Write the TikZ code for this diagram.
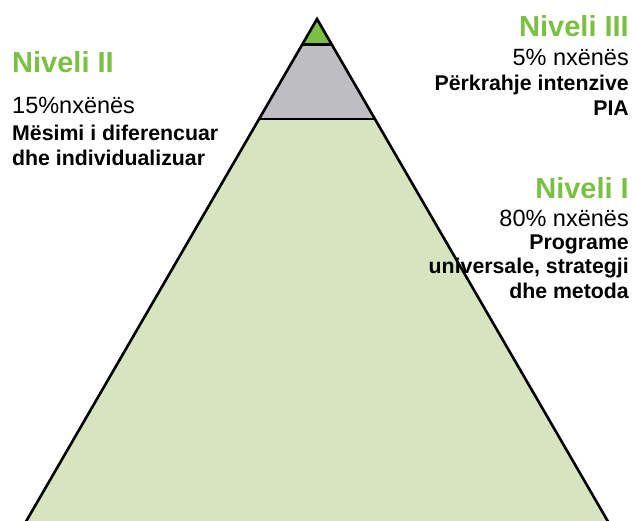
\documentclass[tikz,border=0pt]{standalone}
\usepackage{fontspec}
\setmainfont{Liberation Sans}
\usetikzlibrary{positioning}
\definecolor{nivgreen}{HTML}{7AC143}
\definecolor{nivgray}{HTML}{BEBEC2}
\definecolor{nivlight}{HTML}{D7E4C0}

\begin{document}
\begin{tikzpicture}[x=1pt, y=-1pt,
  head/.style={inner sep=0pt, text=nivgreen, font=\fontsize{29}{29}\selectfont\bfseries},
  pct/.style={inner sep=0pt, font=\fontsize{23.5}{23.5}\selectfont},
  body/.style={inner sep=0pt, font=\fontsize{21.3}{24.5}\selectfont\bfseries},
  band/.style={draw=black, line width=2.6pt, line join=miter}]
  \useasboundingbox (0,0) rectangle (632,520);
  \clip (0,0) rectangle (632,520);
  % pyramid corners
  \coordinate (apex) at (317,19);
  \coordinate (t1l) at (302.2,44.5);
  \coordinate (t1r) at (331.8,44.5);
  \coordinate (t2l) at (259,119);
  \coordinate (t2r) at (375,119);
  \coordinate (bl) at (21.1,530);
  \coordinate (br) at (612.9,530);
  \fill[nivlight] (t2l) -- (t2r) -- (br) -- (bl) -- cycle;
  \fill[nivgray] (t1l) -- (t1r) -- (t2r) -- (t2l) -- cycle;
  \fill[nivgreen] (apex) -- (t1r) -- (t1l) -- cycle;
  \draw[band] (bl) -- (apex) -- (br);
  \draw[band] (t1l) -- (t1r);
  \draw[band] (t2l) -- (t2r);

  % Niveli III
  \node[head, anchor=base east] (n3) at (629,36) {Niveli III};
  \node[pct, anchor=base east] (n3pct) at (629,65.5) {5\% nxënës};
  \node[body, anchor=base east, align=right] (n3txt) at (629,115)
    {Përkrahje intenzive\\PIA};
  % Niveli II
  \node[head, anchor=base west] (n2) at (12,72) {Niveli II};
  \node[pct, anchor=base west] (n2pct) at (12,113) {15\%nxënës};
  \node[body, anchor=base west, align=left] (n2txt) at (12,165)
    {Mësimi i diferencuar\\dhe individualizuar};
  % Niveli I
  \node[head, anchor=base east] (n1) at (629,198) {Niveli I};
  \node[pct, anchor=base east] (n1pct) at (629,226) {80\% nxënës};
  \node[body, anchor=base east, align=right] (n1txt) at (629,298)
    {Programe\\universale, strategji\\dhe metoda};
\end{tikzpicture}
\end{document}
